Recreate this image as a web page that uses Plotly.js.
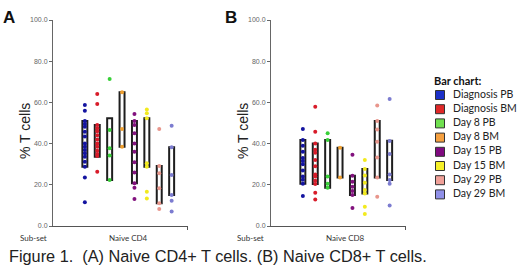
<!DOCTYPE html>
<html><head><meta charset="utf-8">
<script src="https://cdn.plot.ly/plotly-3.0.1.min.js"></script>
<style>body{margin:0;background:#fff}#chart{width:520px;height:279px}</style>
</head><body><div id="chart"></div>
<script>
// ---- data ----
const seriesNames = ["Diagnosis PB","Diagnosis BM","Day 8 PB","Day 8 BM","Day 15 PB","Day 15 BM","Day 29 PB","Day 29 BM"];
const pointColors = ["#1414a0","#d81c2a","#38d038","#f0a030","#82127e","#f2ea1e","#e8968c","#7c7cd0"];
const legendColors = ["#1c30c8","#e02828","#70e050","#f5a040","#800a80","#f5f028","#f0a098","#9090e8"];

const yTickVals = [0,20,40,60,80,100];
const subsetA = "Naive CD4";
const subsetB = "Naive CD8";

const lowsA  = [28.8, 33.6, 22.3, 38.5, 20.7, 28.8, 11.0, 15.0];
const highsA = [51.0, 49.0, 52.3, 64.9, 51.0, 52.3, 29.1, 38.2];
const lowsB  = [20.5, 20.4, 18.6, 23.6, 15.0, 15.8, 23.6, 22.3];
const highsB = [41.7, 40.1, 41.7, 38.0, 24.4, 27.7, 51.0, 41.4];

const cd4DiagnosisPB = [58.7,56.0,51.0,49.5,48.2,45.8,43.4,40.1,38.5,36.9,35.3,33.6,31.2,28.8,23.6,11.5];
const cd4DiagnosisBM = [64.1,59.2,49.0,47.5,46.0,44.0,42.0,40.0,38.5,36.5,35.0,34.0,26.3];
const cd4Day8PB  = [71.4,46.6,37.7,34.2,22.3];
const cd4Day8BM  = [64.9,47.1,38.5];
const cd4Day15PB = [54.4,51.0,49.0,45.0,40.0,36.0,31.0,26.0,20.7,18.6,13.1];
const cd4Day15BM = [56.6,54.7,52.3,30.5,28.8,16.6,13.4];
const cd4Day29PB = [47.1,29.1,25.6,18.3,11.0,8.3];
const cd4Day29BM = [48.7,38.2,24.8,15.0,12.3,7.0];

const cd8DiagnosisPB = [47.1,41.7,39.0,36.0,33.0,31.5,30.0,27.0,24.0,22.5,20.5,14.6];
const cd8DiagnosisBM = [57.9,45.8,40.1,37.0,35.5,32.0,29.0,25.0,24.0,22.0,20.4,16.2,12.9];
const cd8Day8PB  = [45.0,41.7,24.0,20.5,18.6];
const cd8Day8BM  = [38.0,23.6];
const cd8Day15PB = [34.6,24.4,21.5,19.0,17.0,15.0,8.7];
const cd8Day15BM = [32.0,27.7,24.5,21.0,17.5,15.8,9.4,5.8];
const cd8Day29PB = [58.5,51.0,46.9,40.9,33.3,23.6,14.2];
const cd8Day29BM = [61.7,41.3,35.0,25.0,22.3,20.5,9.9];

const pointsA = [cd4DiagnosisPB,cd4DiagnosisBM,cd4Day8PB,cd4Day8BM,cd4Day15PB,cd4Day15BM,cd4Day29PB,cd4Day29BM];
const pointsB = [cd8DiagnosisPB,cd8DiagnosisBM,cd8Day8PB,cd8Day8BM,cd8Day15PB,cd8Day15BM,cd8Day29PB,cd8Day29BM];

// ---- build ----
const W = 520, H = 279;
const groupX = seriesNames.map((_, i) => i + 1);
const traces = [];

function panel(lows, highs, pts, xa, ya) {
  traces.push({
    type: 'bar', x: groupX, base: lows, y: highs.map((h, i) => h - lows[i]),
    width: 0.4, xaxis: xa, yaxis: ya, hoverinfo: 'skip', showlegend: false,
    marker: {color: 'rgba(255,255,255,1)', line: {color: '#1e1e1e', width: 2}}
  });
  pts.forEach((arr, i) => {
    traces.push({
      type: 'scatter', mode: 'markers', x: arr.map(() => i + 1), y: arr,
      xaxis: xa, yaxis: ya, showlegend: false, cliponaxis: false,
      marker: {color: pointColors[i], size: 4, line: {width: 0}}
    });
  });
}
panel(lowsA, highsA, pointsA, 'x', 'y');
panel(lowsB, highsB, pointsB, 'x2', 'y2');

// legend (as a small hidden subplot)
traces.push({
  type: 'scatter', mode: 'markers', x: seriesNames.map(() => 20), y: seriesNames.map((_, i) => i),
  xaxis: 'x3', yaxis: 'y3', showlegend: false, cliponaxis: false,
  marker: {symbol: 'square', size: 9, color: legendColors, line: {color: '#333', width: 1}}
});
traces.push({
  type: 'scatter', mode: 'text', x: seriesNames.map(() => 33), y: seriesNames.map((_, i) => i),
  text: seriesNames, textposition: 'middle right', xaxis: 'x3', yaxis: 'y3', showlegend: false, cliponaxis: false,
  textfont: {family: 'Lato, "Open Sans", sans-serif', size: 10.5, color: '#222'}
});

const yDom = [(H - 226) / H, (H - 20) / H];
const xRange = [-1.57, 9.32];
function yax() {
  return {
    domain: yDom, range: [0, 100], tickvals: yTickVals, tickformat: '.1f',
    ticks: 'outside', ticklen: 3, tickcolor: '#666', tickwidth: 1,
    showline: true, linecolor: '#666', linewidth: 1, showgrid: false, zeroline: false,
    tickfont: {family: 'Liberation Sans, Arial, sans-serif', size: 7, color: '#666'}, fixedrange: true
  };
}
function xax(d0, d1) {
  return {
    domain: [d0 / W, d1 / W], range: xRange, showline: true, linecolor: '#555', linewidth: 1,
    tickvals: [xRange[1] - 0.05], ticktext: [''], ticks: 'outside', ticklen: 3, tickcolor: '#555',
    showgrid: false, zeroline: false, fixedrange: true
  };
}
const lyPerItem = 14.2, ly0 = 95;

const ann = [];
const f = 'Liberation Sans, Arial, sans-serif';
function pa(x, y, text, opts) {
  ann.push(Object.assign({xref: 'paper', yref: 'paper', x: x / W, y: (H - y) / H, text: text, showarrow: false,
    xanchor: 'center', yanchor: 'middle', font: {family: f, size: 12, color: '#222'}}, opts || {}));
}
pa(9, 17, '<b>A</b>', {font: {family: f, size: 17, color: '#111'}});
pa(231, 17, '<b>B</b>', {font: {family: f, size: 17, color: '#111'}});
pa(25, 131, '% T cells', {textangle: -90, font: {family: f, size: 14, color: '#222'}});
pa(243, 131, '% T cells', {textangle: -90, font: {family: f, size: 14, color: '#222'}});
const small = {family: 'Lato, "Open Sans", sans-serif', size: 8, color: '#333'};
pa(33, 238, 'Sub-set', {font: small});
pa(128, 238, subsetA, {font: small});
pa(250, 238, 'Sub-set', {font: small});
pa(345, 238, subsetB, {font: small});
pa(7, 256, 'Figure 1.  (A) Naive CD4+ T cells. (B) Naive CD8+ T cells.', {xanchor: 'left', font: {family: f, size: 16.3, color: '#222'}});
pa(432, 80, '<b>Bar chart:</b>', {xanchor: 'left', font: {family: 'Lato, "Open Sans", sans-serif', size: 11, color: '#111'}});

const layout = {
  width: W, height: H, margin: {l: 0, r: 0, t: 0, b: 0}, paper_bgcolor: '#fff', plot_bgcolor: 'rgba(0,0,0,0)',
  showlegend: false, barmode: 'overlay',
  xaxis: xax(53, 188), yaxis: Object.assign(yax(), {anchor: 'x'}),
  xaxis2: Object.assign(xax(271, 406), {anchor: 'y2'}), yaxis2: Object.assign(yax(), {anchor: 'x2'}),
  xaxis3: {domain: [420 / W, 1], range: [0, 100], visible: false, fixedrange: true, anchor: 'y3'},
  yaxis3: {domain: [0, 1], range: [(H - ly0) / lyPerItem, -ly0 / lyPerItem], visible: false, fixedrange: true, anchor: 'x3'},
  annotations: ann
};
layout.xaxis.anchor = 'y';
Plotly.newPlot('chart', traces, layout, {staticPlot: true, displayModeBar: false});
</script></body></html>
